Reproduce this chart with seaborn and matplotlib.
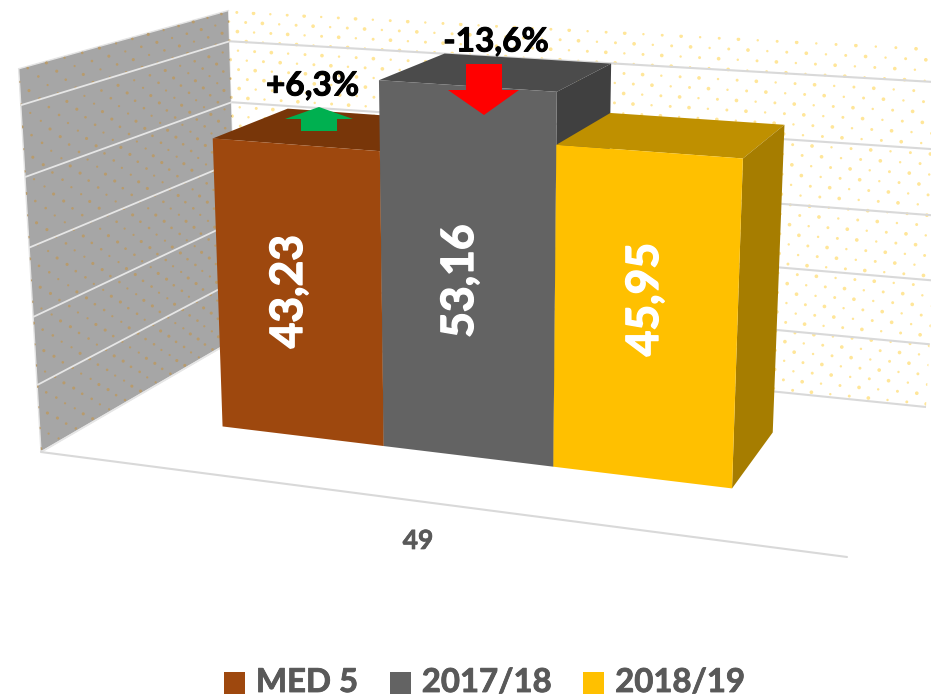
import numpy as np
import pandas as pd
import matplotlib
matplotlib.use("Agg")
import matplotlib.pyplot as plt
import matplotlib.transforms as mtrans
import matplotlib.patheffects as pe
from matplotlib.patches import Polygon
import seaborn as sns

# ---- data -------------------------------------------------------------
CATEGORY = "49"
SERIES = ["MED 5", "2017/18", "2018/19"]
VALUES = [43.23, 53.16, 45.95]
VALUE_LABELS = ["43,23", "53,16", "45,95"]
GRID_TICKS = [0, 10, 20, 30, 40, 50]
AXIS_TOP = 55
DELTA_UP = "+6,3%"
DELTA_DOWN = "-13,6%"

# ---- styles -----------------------------------------------------------
FRONT = ["#9E480E", "#636363", "#FFC000"]
TOP = ["#783609", "#4B4B4B", "#BF9000"]
SIDE = ["#6E3109", "#404040", "#A67D00"]
FONT = ["Lato", "DejaVu Sans"]

sns.set_theme(style="white")
plt.rcParams["font.family"] = FONT
plt.rcParams["font.weight"] = "bold"

# ---- camera: (slot edge, value, depth) -> image pixels -----------------
# slot edges run 0..3 across the three bars; depth runs 0 (front) .. 1 (back)
CALIB = [
    (0, 0, 0, 222.7, 427), (1, 0, 0, 383.5, 446), (2, 0, 0, 553, 467), (3, 0, 0, 732, 488),
    (0, VALUES[0], 0, 213, 138), (1, VALUES[0], 0, 380, 151),
    (1, VALUES[1], 0, 379, 80), (2, VALUES[1], 0, 557, 91.5),
    (2, VALUES[2], 0, 556, 146), (3, VALUES[2], 0, 743, 158),
    (1, VALUES[1], 1, 444, 54), (2, VALUES[1], 1, 611, 63),
    (2, VALUES[2], 1, 610, 114), (3, VALUES[2], 1, 785, 125),
    (3, 0, 1, 773, 432), (0, VALUES[0], 1, 288, 108),
]
A, b = [], []
for X, Y, Z, u, v in CALIB:
    A.append([X, Y, Z, 1, 0, 0, 0, 0, -u * X, -u * Y, -u * Z]); b.append(u)
    A.append([0, 0, 0, 0, X, Y, Z, 1, -v * X, -v * Y, -v * Z]); b.append(v)
p = np.linalg.lstsq(np.array(A, float), np.array(b, float), rcond=None)[0]
P = np.append(p, 1.0).reshape(3, 4)


def project(X, Y, Z):
    q = P @ np.array([X, Y, Z, np.ones_like(np.asarray(X, float))], float)
    return q[0] / q[2], q[1] / q[2]


def pts(*corners):
    return np.array([project(*c) for c in corners])


class FrontFace(mtrans.Transform):
    """Maps the bar axes (category position, value) onto the front plane."""
    input_dims = 2
    output_dims = 2
    is_separable = False
    has_inverse = False

    def transform_non_affine(self, xy):
        xy = np.asarray(xy, float)
        u, v = project((xy[:, 0] + 0.5) * 3, xy[:, 1], np.zeros(len(xy)))
        return np.column_stack([u, v])


# floor corners, expressed in camera coordinates
Hi = np.linalg.inv(P[:, [0, 2, 3]])


def to_floor(u, v):
    q = Hi @ np.array([u, v, 1.0])
    return q[0] / q[2], q[1] / q[2]


BL = to_floor(239, 337)
FL = to_floor(41, 452)
FR = to_floor(847, 557)
BR = to_floor(926, 407)


def lift(c, y):
    return (c[0], y, c[1])


def mix(a, c, t):
    return (a[0] + (c[0] - a[0]) * t, a[1] + (c[1] - a[1]) * t)


fig = plt.figure(figsize=(9.31, 6.97), dpi=100, facecolor="white")
ax = fig.add_axes([0, 0, 1, 1])

df = pd.DataFrame({"cat": [CATEGORY] * 3, "series": SERIES, "value": VALUES})
sns.barplot(data=df, x="cat", y="value", hue="series", hue_order=SERIES,
            palette=FRONT, saturation=1, width=1, gap=0, dodge=True,
            errorbar=None, linewidth=0, ax=ax, legend=True)
handles, labels = ax.get_legend_handles_labels()
ax.get_legend().remove()

ax.set_xlim(0, 931)
ax.set_ylim(697, 0)
ax.set_axis_off()

front_tf = FrontFace() + ax.transData
for r in sorted(ax.patches, key=lambda r: r.get_x()):
    r.set_transform(front_tf)
    r.set_zorder(6)
    r.set_linewidth(0)

# ---- walls ------------------------------------------------------------
left_wall = pts(lift(FL, 0), lift(FL, AXIS_TOP), lift(BL, AXIS_TOP), lift(BL, 0))
back_wall = pts(lift(BL, 0), lift(BL, AXIS_TOP), lift(BR, AXIS_TOP), lift(BR, 0))
lw_patch = Polygon(left_wall, closed=True, fc="#A6A6A6", ec="#E4E4E4", lw=1, zorder=1)
bw_patch = Polygon(back_wall, closed=True, fc="white", ec="none", zorder=1)
ax.add_patch(lw_patch)
ax.add_patch(bw_patch)

# dotted wall texture
rows = np.arange(0.5, AXIS_TOP, 1.55)
xs_b, ys_b, ss_b = [], [], []
for i, yy in enumerate(rows):
    for j, t in enumerate(np.linspace(0, 1, 40)):
        u, v = project(*lift(mix(BL, BR, t + (0.0125 if i % 2 else 0)), yy))
        xs_b.append(u); ys_b.append(v); ss_b.append([7, 3, 4.5][(i + j) % 3])
sc = ax.scatter(xs_b, ys_b, s=ss_b, c="#FFE699", linewidths=0, zorder=1.5)
sc.set_clip_path(bw_patch)

xs_l, ys_l, ss_l = [], [], []
for i, yy in enumerate(rows):
    for j, t in enumerate(np.linspace(0, 1, 14)):
        u, v = project(*lift(mix(FL, BL, t + (0.036 if i % 2 else 0)), yy))
        xs_l.append(u); ys_l.append(v); ss_l.append([5, 2.5, 3.5][(i + j) % 3])
sc = ax.scatter(xs_l, ys_l, s=ss_l, c="#B89B6C", linewidths=0, zorder=1.5)
sc.set_clip_path(lw_patch)

# gridlines and floor edges
for t in GRID_TICKS:
    u, v = zip(*pts(lift(FL, t), lift(BL, t)))
    ax.plot(u, v, color="#E6E6E6", lw=1.3, zorder=2, solid_capstyle="butt")
    u, v = zip(*pts(lift(BL, t), lift(BR, t)))
    ax.plot(u, v, color="#D9D9D9", lw=1.5, zorder=2, solid_capstyle="butt")
u, v = zip(*pts(lift(FL, 0), lift(FR, 0)))
ax.plot(u, v, color="#D9D9D9", lw=1.5, zorder=2)

# ---- bar tops and sides ----------------------------------------------
for i, val in enumerate(VALUES):
    z = 3 + i * 0.2
    ax.add_patch(Polygon(pts((i, val, 0), (i + 1, val, 0), (i + 1, val, 1), (i, val, 1)),
                         closed=True, fc=TOP[i], ec="none", zorder=z))
    ax.add_patch(Polygon(pts((i + 1, 0, 0), (i + 1, val, 0), (i + 1, val, 1), (i + 1, 0, 1)),
                         closed=True, fc=SIDE[i], ec="none", zorder=z))

# ---- arrows -----------------------------------------------------------
ax.add_patch(Polygon([(319, 107), (353, 119), (337, 119), (337, 131), (301, 131), (301, 119), (285, 119)],
                     closed=True, fc="#00B050", ec="none", zorder=8))
ax.add_patch(Polygon([(466, 64), (502, 64), (502, 90), (519, 90), (484, 115), (448, 90), (466, 90)],
                     closed=True, fc="#FF0000", ec="none", zorder=8))


# ---- text -------------------------------------------------------------
def heavy(color, w=0.7):
    return [pe.withStroke(linewidth=w, foreground=color)]


for txt, (u, v) in zip(VALUE_LABELS, [(289, 291.5), (460, 281), (645, 299.5)]):
    ax.text(u, v, txt, color="white", rotation=90, ha="center", va="center",
            fontsize=32, fontweight="bold", zorder=9, path_effects=heavy("white", 1.0))
ax.text(312.5, 86, DELTA_UP, color="black", ha="center", va="center", fontsize=24,
        fontweight="bold", zorder=9, path_effects=heavy("black"))
ax.text(496, 42, DELTA_DOWN, color="black", ha="center", va="center", fontsize=24,
        fontweight="bold", zorder=9, path_effects=heavy("black"))
ax.text(418, 541, CATEGORY, color="#595959", ha="center", va="center", fontsize=19,
        fontweight="bold", zorder=9, path_effects=heavy("#595959", 0.5))

# ---- legend ------------------------------------------------------------
for h, c in zip(handles, FRONT):
    h.set_facecolor(c)
leg = ax.legend(handles, labels, loc="lower left", bbox_to_anchor=(224 / 931, 0.0), ncol=3, frameon=False,
                fontsize=23.7, handlelength=0.64, handleheight=0.64, handletextpad=0.33, columnspacing=0.97,
                labelcolor="#595959", borderpad=0.0, borderaxespad=0.0)
for t in leg.get_texts():
    t.set_path_effects(heavy("#595959", 0.6))
for h in leg.legend_handles:
    h.set_y(h.get_y() - 2)

fig.savefig("out.png", dpi=100, facecolor="white")
